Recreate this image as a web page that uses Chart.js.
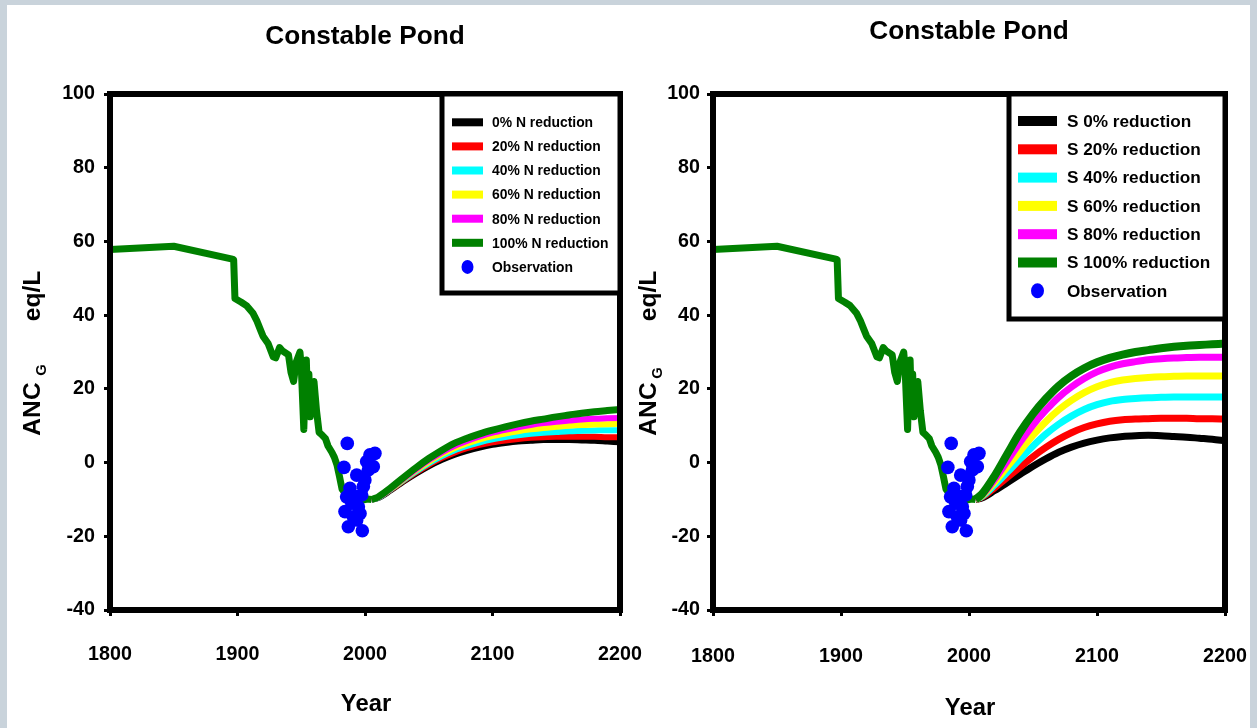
<!DOCTYPE html>
<html><head><meta charset="utf-8">
<script src="https://cdn.jsdelivr.net/npm/chart.js@4.4.0/dist/chart.umd.min.js"></script>
<style>
html,body{margin:0;padding:0;width:1257px;height:728px;overflow:hidden;background:#c9d3db;}
#panel{position:absolute;left:7px;top:5px;width:1243px;height:723px;background:#fff;}
#c1{position:absolute;left:7px;top:0;width:690px;height:728px;}
#c2{position:absolute;left:627px;top:0;width:660px;height:728px;}
</style></head><body>
<div id="panel"></div>
<canvas id="c1" width="690" height="728"></canvas>
<canvas id="c2" width="660" height="728"></canvas>
<script>
// ---------- DATA ----------
const chartTitle = 'Constable Pond';
const xTitle = 'Year';
const yTitleMain = 'ANC';
const yTitleSub = 'G';
const yTitleUnit = 'eq/L';
const xTickLabels = ['1800', '1900', '2000', '2100', '2200'];
const yTickLabels = ['-40', '-20', '0', '20', '40', '60', '80', '100'];

// simulated history (common to all scenarios)
const histYears  = [1800, 1850, 1896, 1897, 1898, 1903, 1907, 1912, 1915, 1918, 1920, 1924, 1928, 1930, 1933, 1935, 1940, 1942, 1944, 1946, 1949, 1950, 1952, 1953, 1954, 1955, 1956, 1957, 1958, 1960, 1961, 1962, 1964, 1966, 1969, 1971, 1974, 1976, 1978, 1980, 1982, 1985, 1988, 1993, 1998, 2002, 2005];
const histValues = [57.8, 58.7, 55.2, 55.0, 44.5, 43.5, 42.6, 40.6, 38.6, 36.0, 34.3, 32.3, 28.7, 28.4, 31.2, 30.4, 29.2, 24.4, 22.0, 27.2, 30.0, 26.0, 9.0, 20.0, 27.8, 15.0, 24.0, 12.4, 19.0, 22.0, 18.0, 14.0, 8.2, 7.6, 6.5, 4.5, 2.8, 1.4, -0.6, -3.8, -7.2, -8.6, -10.0, -10.4, -10.2, -9.9, -10.0];

// projection years
const projYears = [2005, 2010, 2020, 2030, 2040, 2050, 2060, 2070, 2080, 2090, 2100, 2110, 2120, 2130, 2140, 2150, 2160, 2170, 2180, 2190, 2200];

// left panel: N reduction scenarios
const nLabels = ['0% N reduction', '20% N reduction', '40% N reduction', '60% N reduction', '80% N reduction', '100% N reduction'];
const n0   = [-10, -9.7, -7.6, -5.2, -3.0, -1.0, 0.7, 2.1, 3.2, 4.1, 4.8, 5.3, 5.7, 5.9, 6.1, 6.1, 6.1, 6.0, 5.9, 5.7, 5.5];
const n20  = [-10, -9.6, -7.4, -5.0, -2.7, -0.6, 1.2, 2.7, 3.9, 4.8, 5.5, 6.0, 6.4, 6.7, 6.9, 7.0, 7.0, 7.0, 7.0, 6.9, 6.9];
const n40  = [-10, -9.6, -7.3, -4.8, -2.4, -0.2, 1.7, 3.3, 4.5, 5.5, 6.3, 6.9, 7.4, 7.8, 8.1, 8.3, 8.5, 8.6, 8.7, 8.8, 8.8];
const n60  = [-10, -9.5, -7.2, -4.6, -2.1, 0.2, 2.2, 3.9, 5.2, 6.3, 7.2, 7.9, 8.5, 9.0, 9.4, 9.7, 10.0, 10.2, 10.3, 10.4, 10.5];
const n80  = [-10, -9.5, -7.1, -4.4, -1.8, 0.6, 2.7, 4.5, 5.9, 7.1, 8.1, 8.9, 9.6, 10.2, 10.7, 11.1, 11.4, 11.7, 11.9, 12.0, 12.1];
const n100 = [-10, -9.4, -6.9, -4.1, -1.4, 1.1, 3.3, 5.2, 6.6, 7.8, 8.8, 9.7, 10.5, 11.2, 11.8, 12.4, 12.9, 13.4, 13.8, 14.1, 14.4];

// right panel: S reduction scenarios
const sLabels = ['S 0% reduction', 'S 20% reduction', 'S 40% reduction', 'S 60% reduction', 'S 80% reduction', 'S 100% reduction'];
const s0   = [-10, -9.6, -7.6, -5.4, -3.2, -1.0, 1.0, 2.8, 4.2, 5.3, 6.1, 6.7, 7.1, 7.3, 7.4, 7.3, 7.1, 6.9, 6.6, 6.3, 5.9];
const s20  = [-10, -9.4, -6.8, -4.0, -1.2, 1.6, 4.1, 6.3, 8.1, 9.5, 10.5, 11.2, 11.6, 11.8, 11.9, 12.0, 12.0, 12.0, 11.9, 11.9, 11.8];
const s40  = [-10, -9.2, -6.1, -2.6, 1.0, 4.5, 7.7, 10.4, 12.6, 14.4, 15.7, 16.6, 17.1, 17.4, 17.6, 17.7, 17.8, 17.8, 17.8, 17.8, 17.8];
const s60  = [-10, -9.0, -5.3, -1.1, 3.2, 7.4, 11.1, 14.3, 16.9, 19.0, 20.6, 21.7, 22.4, 22.8, 23.1, 23.3, 23.4, 23.5, 23.5, 23.5, 23.5];
const s80  = [-10, -8.8, -4.5, 0.5, 5.6, 10.2, 14.2, 17.7, 20.5, 22.8, 24.6, 25.9, 26.8, 27.4, 27.9, 28.2, 28.4, 28.5, 28.6, 28.6, 28.6];
const s100 = [-10, -8.6, -3.6, 2.4, 8.3, 13.2, 17.3, 20.8, 23.5, 25.6, 27.2, 28.4, 29.3, 30.0, 30.5, 31.0, 31.4, 31.7, 31.9, 32.1, 32.3];

// observations
const obsLabel = 'Observation';
const obsYears  = [1986.1, 1983.5, 1988.2, 1984.3, 1986.9, 1997.9, 1993.5, 1997.4, 1994.8, 1990.8, 2001.3, 2007.8, 2003.9, 2006.5, 1999.9, 1998.7, 1992.2, 1989.6, 1996.1, 1993.5, 1985.6, 2002.6];
const obsValues = [5.2, -1.3, -7.0, -13.3, -17.4, -18.5, -3.4, -8.8, -12.0, -14.7, 0.3, 2.5, 2.1, -1.1, -4.7, -6.5, -9.2, -11.0, -13.8, -15.6, -9.3, -2.0];

const seriesColors = ['#000000', '#ff0000', '#00ffff', '#ffff00', '#ff00ff', '#008000'];
const obsColor = '#0000ff';

// ---------- FONT ----------
function hasFont(name) {
  const c = document.createElement('canvas').getContext('2d');
  const s = 'abcdefghijklmnopqrstuvwxyz0123456789';
  c.font = 'bold 72px monospace'; const a = c.measureText(s).width;
  c.font = 'bold 72px "' + name + '", monospace'; const b = c.measureText(s).width;
  return Math.abs(a - b) > 0.5;
}
const NARROW = hasFont('Liberation Sans Narrow');
const FAM = NARROW ? '"Liberation Sans Narrow", "Arial Narrow", sans-serif' : '"Liberation Sans", Arial, sans-serif';
const K = NARROW ? 1 : 0.82;
const fs = n => Math.round(n * K * 10) / 10;
const fstr = n => 'bold ' + fs(n) + 'px ' + FAM;

// ---------- PLUGINS ----------
const framePlugin = {
  id: 'frame',
  afterDatasetsDraw(chart) {
    const {ctx, chartArea: a} = chart;
    ctx.save();
    ctx.strokeStyle = '#000'; ctx.lineWidth = 6;
    ctx.strokeRect(a.left, a.top, a.right - a.left, a.bottom - a.top);
    ctx.restore();
  }
};

const boxLegendPlugin = {
  id: 'boxLegend',
  afterDatasetsDraw(chart, args, o) {
    const ctx = chart.ctx;
    const a = chart.chartArea;
    const x1 = a.right, y0 = a.top;
    ctx.save();
    ctx.fillStyle = '#fff';
    ctx.fillRect(o.x0, y0, x1 - o.x0, o.y1 - y0);
    ctx.strokeStyle = '#000'; ctx.lineWidth = 5;
    ctx.strokeRect(o.x0, y0, x1 - o.x0, o.y1 - y0);
    const items = chart.data.datasets.filter(d => d.label);
    ctx.font = fstr(o.font);
    ctx.textBaseline = 'middle'; ctx.textAlign = 'left';
    items.forEach((d, i) => {
      const y = o.rowY + i * o.rowGap;
      if (d.showLine === false) {
        ctx.fillStyle = d.pointBackgroundColor;
        ctx.beginPath();
        ctx.ellipse(o.swX + o.swW / 2, y, o.rx, o.ry, 0, 0, Math.PI * 2);
        ctx.fill();
      } else {
        ctx.fillStyle = d.borderColor;
        ctx.fillRect(o.swX, y - o.swH / 2, o.swW, o.swH);
      }
      ctx.fillStyle = '#000';
      ctx.fillText(d.label, o.textX, y + 1);
    });
    ctx.restore();
  }
};

const axisTitlePlugin = {
  id: 'axisTitles',
  afterDraw(chart, args, o) {
    const ctx = chart.ctx;
    ctx.save();
    ctx.fillStyle = '#000';
    ctx.textAlign = 'center'; ctx.textBaseline = 'middle';
    ctx.font = fstr(o.xFont);
    ctx.fillText(xTitle, o.xX, o.xY);
    // rotated y title
    ctx.save();
    ctx.translate(o.yX, 0);
    ctx.rotate(-Math.PI / 2);
    ctx.font = fstr(o.yFont);
    ctx.fillText(yTitleMain, -o.ancY, 0);
    ctx.fillText(yTitleUnit, -o.unitY, 0);
    ctx.font = fstr(o.subFont);
    ctx.fillText(yTitleSub, -o.subY, o.subDX);
    ctx.restore();
    ctx.restore();
  }
};

// ---------- BUILD ----------
function pts(xs, ys) { return xs.map((x, i) => ({x: x, y: ys[i]})); }

function buildDatasets(labels, arrays, lineW) {
  const ds = [];
  arrays.forEach((arr, i) => {
    ds.push({
      label: labels[i], data: pts(projYears, arr),
      borderColor: seriesColors[i], backgroundColor: seriesColors[i],
      borderWidth: i === arrays.length - 1 ? lineW + 1 : lineW,
      pointRadius: 0, cubicInterpolationMode: 'monotone', fill: false,
      order: 10 - i
    });
  });
  ds.push({
    label: '', data: pts(histYears, histValues),
    borderColor: seriesColors[5], backgroundColor: seriesColors[5],
    borderWidth: 7, pointRadius: 0, tension: 0, fill: false,
    borderJoinStyle: 'round', order: 2
  });
  ds.push({
    label: obsLabel, data: pts(obsYears, obsValues), showLine: false,
    pointRadius: 6.8, pointBackgroundColor: obsColor, pointBorderColor: obsColor,
    pointBorderWidth: 0, borderColor: obsColor, backgroundColor: obsColor, order: 0
  });
  return ds;
}

function makeChart(id, cfg) {
  const tickFont = {family: FAM, size: fs(24), weight: 'bold'};
  const titleSize = fs(32);
  const lh = titleSize * 1.2;
  const tTop = cfg.titleY - lh / 2;
  const tBottom = cfg.plotTop - tTop - lh;
  return new Chart(document.getElementById(id), {
    type: 'line',
    data: {datasets: buildDatasets(cfg.labels, cfg.arrays, cfg.lineW)},
    options: {
      responsive: false, animation: false, events: [],
      layout: {padding: {left: 0, right: cfg.padRight, top: 0, bottom: 0}},
      plugins: {
        legend: {display: false}, tooltip: {enabled: false},
        title: {
          display: true, text: chartTitle, fullSize: false, color: '#000',
          font: {family: FAM, size: titleSize, weight: 'bold', lineHeight: 1.2},
          padding: {top: tTop, bottom: tBottom}
        },
        boxLegend: cfg.legend,
        axisTitles: cfg.axisTitles
      },
      scales: {
        x: {
          type: 'linear', min: 1800, max: 2200,
          ticks: {stepSize: 100, color: '#000', font: tickFont, padding: cfg.xPad, maxRotation: 0,
            callback: (v) => xTickLabels[Math.round((v - 1800) / 100)]},
          grid: {drawOnChartArea: false, drawTicks: true, tickLength: 6, lineWidth: 3, color: '#000'},
          border: {display: false},
          afterFit: s => { s.height = cfg.xH; }
        },
        y: {
          type: 'linear', min: -40, max: 100,
          ticks: {stepSize: 20, color: '#000', font: tickFont, padding: cfg.yPad,
            callback: (v) => yTickLabels[Math.round((v + 40) / 20)]},
          grid: {drawOnChartArea: false, drawTicks: true, tickLength: 6, lineWidth: 3, color: '#000'},
          border: {display: false},
          afterFit: s => { s.width = cfg.yW; }
        }
      }
    },
    plugins: [framePlugin, boxLegendPlugin, axisTitlePlugin]
  });
}

// left chart (canvas offset x=7), plot area page x 110..620, y 94..610
makeChart('c1', {
  labels: nLabels, arrays: [n0, n20, n40, n60, n80, n100], lineW: 6,
  padRight: 77, yW: 103, xH: 118, titleY: 37, plotTop: 94, xPad: 27, yPad: 9,
  legend: {x0: 435, y1: 293, swX: 445, swW: 31, swH: 8, rowY: 122.3, rowGap: 24.1, textX: 485, font: 17, rx: 6, ry: 7},
  axisTitles: {xX: 359, xY: 704, xFont: 29, yX: 26, yFont: 30, ancY: 409, unitY: 296, subY: 370, subDX: 9, subFont: 18}
});

// right chart (canvas offset x=627), plot area page x 713..1225, y 94..610
makeChart('c2', {
  labels: sLabels, arrays: [s0, s20, s40, s60, s80, s100], lineW: 7,
  padRight: 62, yW: 86, xH: 118, titleY: 32, plotTop: 94, xPad: 29, yPad: 7,
  legend: {x0: 382, y1: 319, swX: 391, swW: 39, swH: 10, rowY: 121, rowGap: 28.3, textX: 440, font: 21, rx: 6.5, ry: 7.5},
  axisTitles: {xX: 343, xY: 708, xFont: 29, yX: 22, yFont: 30, ancY: 409, unitY: 296, subY: 373, subDX: 9, subFont: 18}
});
</script>
</body></html>
